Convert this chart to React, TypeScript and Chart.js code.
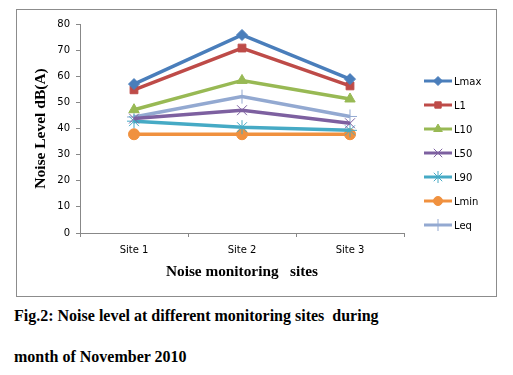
import React, { useEffect, useRef } from "react";
import { Chart, registerables } from "chart.js";
import { drawPoint } from "chart.js/helpers";

Chart.register(...registerables);

const categories = ["Site 1", "Site 2", "Site 3"];
const seriesNames = ["Lmax", "L1", "L10", "L50", "L90", "Lmin", "Leq"];
const lmax = [57, 75.8, 58.9];
const l1 = [54.8, 70.8, 56.3];
const l10 = [47.2, 58.4, 51.3];
const l50 = [43.8, 47, 42];
const l90 = [42.8, 40.5, 39.3];
const lmin = [37.8, 37.8, 37.8];
const leq = [44.4, 52.2, 44.6];
const yTicks = [0, 10, 20, 30, 40, 50, 60, 70, 80];

const seriesValues = [lmax, l1, l10, l50, l90, lmin, leq];
const colors = ["#4A7EBB", "#BE4B48", "#98B954", "#7D60A0", "#46AAC5", "#F0913F", "#93A9D1"];
const pointStyles = ["rectRot", "rect", "triangle", "crossRot", "star", "circle", "cross"];
const pointRadii = [5.5, 5.5, 6, 7, 7, 5.5, 7];

const serif = "'Liberation Serif', 'Times New Roman', serif";
const sans = "'DejaVu Sans', Verdana, sans-serif";

const legendPlugin = {
  id: "customLegend",
  afterDraw(chart: any) {
    const ctx = chart.ctx;
    ctx.save();
    chart.data.datasets.forEach((ds: any, i: number) => {
      const y = 71 + i * 24;
      const x0 = 407;
      const x1 = 435;
      ctx.strokeStyle = ds.borderColor;
      ctx.lineWidth = 3;
      ctx.beginPath();
      ctx.moveTo(x0, y);
      ctx.lineTo(x1, y);
      ctx.stroke();
      ctx.fillStyle = ds.pointBackgroundColor;
      ctx.strokeStyle = ds.pointBorderColor;
      ctx.lineWidth = 1;
      drawPoint(ctx, { pointStyle: ds.pointStyle, radius: ds.pointRadius - 1, rotation: 0, borderWidth: 1 }, (x0 + x1) / 2, y);
      ctx.fillStyle = "#000";
      ctx.font = "10px " + sans;
      ctx.textBaseline = "middle";
      ctx.textAlign = "left";
      ctx.fillText(ds.label, x1 + 2, y + 1);
    });
    ctx.restore();
  },
};

function NoiseChart() {
  const ref = useRef<HTMLCanvasElement>(null);
  useEffect(() => {
    if (!ref.current) return;
    const chart = new Chart(ref.current, {
      type: "line",
      data: {
        labels: categories,
        datasets: seriesNames.map((name, i) => ({
          label: name,
          data: seriesValues[i],
          borderColor: colors[i],
          backgroundColor: colors[i],
          pointBackgroundColor: colors[i],
          pointBorderColor: colors[i],
          pointBorderWidth: 1,
          pointStyle: pointStyles[i] as any,
          pointRadius: pointRadii[i],
          borderWidth: 3.5,
          tension: 0,
          fill: false,
        })),
      },
      options: {
        animation: false,
        responsive: false,
        maintainAspectRatio: false,
        layout: { padding: { left: 0, right: 92, top: 14, bottom: 0 } },
        plugins: {
          legend: { display: false },
          tooltip: { enabled: false },
        },
        scales: {
          x: {
            type: "category",
            offset: true,
            grid: {
              display: true,
              drawOnChartArea: false,
              drawTicks: true,
              tickLength: 4,
              offset: true,
              color: "#888",
            },
            border: { color: "#888", width: 1 },
            ticks: { color: "#000", font: { family: sans, size: 10 }, padding: 7 },
            title: {
              display: true,
              text: "Noise monitoring   sites",
              color: "#000",
              font: { family: serif, size: 15.3, weight: "bold" },
              padding: { top: 0, bottom: 15 },
            },
            afterFit(scale: any) {
              scale.height = 63;
            },
          },
          y: {
            min: 0,
            max: 80,
            afterBuildTicks(scale: any) {
              scale.ticks = yTicks.map((v) => ({ value: v }));
            },
            grid: {
              display: true,
              drawOnChartArea: false,
              drawTicks: true,
              tickLength: 4,
              color: "#888",
            },
            border: { color: "#888", width: 1 },
            ticks: { color: "#000", font: { family: sans, size: 10 }, padding: 6 },
            title: {
              display: true,
              text: "Noise Level dB(A)",
              color: "#000",
              font: { family: serif, size: 15.5, weight: "bold" },
              padding: { top: 15, bottom: 0 },
            },
            afterFit(scale: any) {
              scale.width = 63;
            },
          },
        },
      },
      plugins: [legendPlugin],
    });
    return () => chart.destroy();
  }, []);
  return <canvas ref={ref} width={479} height={286} style={{ display: "block", width: 479, height: 286 }} />;
}

const captionStyle: React.CSSProperties = {
  position: "absolute",
  left: 14,
  fontFamily: serif,
  fontWeight: "bold",
  fontSize: 16,
  color: "#000",
  whiteSpace: "pre",
  lineHeight: "20px",
};

export default function App() {
  return (
    <div style={{ position: "absolute", left: 0, top: 0, width: 513, height: 375, background: "#fff" }}>
      <div
        style={{
          position: "absolute",
          left: 16,
          top: 9,
          width: 479,
          height: 286,
          border: "1px solid #8c8c8c",
        }}
      >
        <NoiseChart />
      </div>
      <div style={{ ...captionStyle, top: 306 }}>
        {"Fig.2: Noise level at different monitoring sites  during"}
      </div>
      <div style={{ ...captionStyle, top: 347 }}>{"month of November 2010"}</div>
    </div>
  );
}
